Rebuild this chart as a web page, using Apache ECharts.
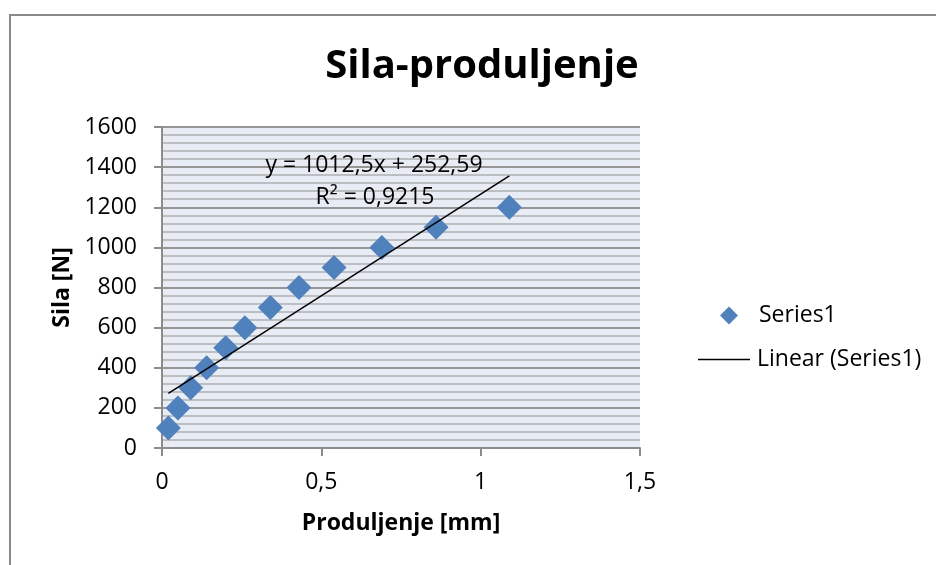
<!DOCTYPE html>
<html>
<head>
<meta charset="utf-8">
<script src="https://cdn.jsdelivr.net/npm/echarts@6/dist/echarts.min.js"></script>
<style>
html,body{margin:0;padding:0;background:#fff;}
#chart{width:936px;height:565px;}
</style>
</head>
<body>
<div id="chart"></div>
<script>
// ---- data ----
const elongation = [0.02, 0.05, 0.09, 0.14, 0.20, 0.26, 0.34, 0.43, 0.54, 0.69, 0.86, 1.09];
const force = [100, 200, 300, 400, 500, 600, 700, 800, 900, 1000, 1100, 1200];
const titleText = 'Sila-produljenje';
const xName = 'Produljenje [mm]';
const yName = 'Sila [N]';
const seriesName = 'Series1';
const trendName = 'Linear (Series1)';
const equationText = 'y = 1012,5x + 252,59';
const r2Text = 'R² = 0,9215';

// linear regression (trendline)
const n = elongation.length;
const mx = elongation.reduce((a, b) => a + b, 0) / n;
const my = force.reduce((a, b) => a + b, 0) / n;
let sxy = 0, sxx = 0;
for (let i = 0; i < n; i++) { sxy += (elongation[i] - mx) * (force[i] - my); sxx += (elongation[i] - mx) ** 2; }
const slope = sxy / sxx;
const intercept = my - slope * mx;
const xMin = Math.min(...elongation), xMax = Math.max(...elongation);
const trendData = [[xMin, intercept + slope * xMin], [xMax, intercept + slope * xMax]];
const points = elongation.map((x, i) => [x, force[i]]);

const FONT = '"Open Sans", sans-serif';
const chart = echarts.init(document.getElementById('chart'), null, {renderer: 'canvas'});
chart.setOption({
  animation: false,
  backgroundColor: '#ffffff',
  title: {
    text: titleText, left: 477, top: 42, textAlign: 'center',
    textStyle: {fontFamily: FONT, fontSize: 40, fontWeight: 'bold', color: '#000'}
  },
  grid: {
    left: 162, right: 296, top: 127, bottom: 117,
    show: true, backgroundColor: '#E8ECF4', borderWidth: 0
  },
  legend: [
    {
      data: [{name: seriesName, icon: 'diamond', itemStyle: {color: '#4F81BD', opacity: 1}}],
      left: 715, top: 299, itemWidth: 18, itemHeight: 18, itemGap: 0,
      textStyle: {fontFamily: FONT, fontSize: 23, color: '#000', padding: [0, 0, 0, 16]}
    },
    {
      data: [{name: trendName, icon: 'rect', itemStyle: {color: '#000'}}],
      left: 693, top: 343, itemWidth: 52, itemHeight: 1.5, itemGap: 0,
      textStyle: {fontFamily: FONT, fontSize: 23, color: '#000', padding: [0, 0, 0, 2]}
    }
  ],
  xAxis: {
    type: 'value', min: 0, max: 1.5, interval: 0.5,
    name: xName, nameLocation: 'middle', nameGap: 64,
    nameTextStyle: {fontFamily: FONT, fontSize: 23, fontWeight: 'bold', color: '#000'},
    axisLine: {show: true, onZero: false, lineStyle: {color: '#8C8C8C', width: 2}},
    axisTick: {show: true, inside: false, length: 8, lineStyle: {color: '#8C8C8C', width: 2}},
    axisLabel: {
      margin: 23, fontFamily: FONT, fontSize: 23, color: '#000',
      formatter: v => String(v).replace('.', ',')
    },
    splitLine: {show: false}
  },
  yAxis: {
    type: 'value', min: 0, max: 1600, interval: 200,
    name: yName, nameLocation: 'middle', nameGap: 88, nameRotate: 90,
    nameTextStyle: {fontFamily: FONT, fontSize: 23, fontWeight: 'bold', color: '#000'},
    axisLine: {show: true, lineStyle: {color: '#8C8C8C', width: 2}},
    axisTick: {show: true, inside: false, length: 8, lineStyle: {color: '#8C8C8C', width: 2}},
    axisLabel: {margin: 25, fontFamily: FONT, fontSize: 23, color: '#000', formatter: v => String(v)},
    splitLine: {show: true, lineStyle: {color: '#969696', width: 2}},
    minorTick: {show: false, splitNumber: 5},
    minorSplitLine: {show: true, lineStyle: {color: '#BCBEC2', width: 2}}
  },
  series: [
    {
      name: seriesName, type: 'scatter', data: points,
      symbol: 'diamond', symbolSize: 25,
      itemStyle: {color: '#4F81BD', opacity: 1}, z: 3
    },
    {
      name: trendName, type: 'line', data: trendData,
      symbol: 'none', showSymbol: false,
      lineStyle: {color: '#000', width: 1.5}, itemStyle: {color: '#000'}, z: 4
    }
  ],
  graphic: [
    {
      type: 'rect', shape: {x: 10, y: 15, width: 940, height: 570},
      style: {fill: 'none', stroke: '#8A8A8A', lineWidth: 2}, silent: true, z: 100
    },
    {
      type: 'text', x: 374, y: 165, z: 100,
      style: {text: equationText, fontFamily: FONT, fontSize: 23, fill: '#000', textAlign: 'center', textVerticalAlign: 'middle'}
    },
    {
      type: 'text', x: 375, y: 197, z: 100,
      style: {text: r2Text, fontFamily: FONT, fontSize: 23, fill: '#000', textAlign: 'center', textVerticalAlign: 'middle'}
    }
  ]
});
</script>
</body>
</html>
